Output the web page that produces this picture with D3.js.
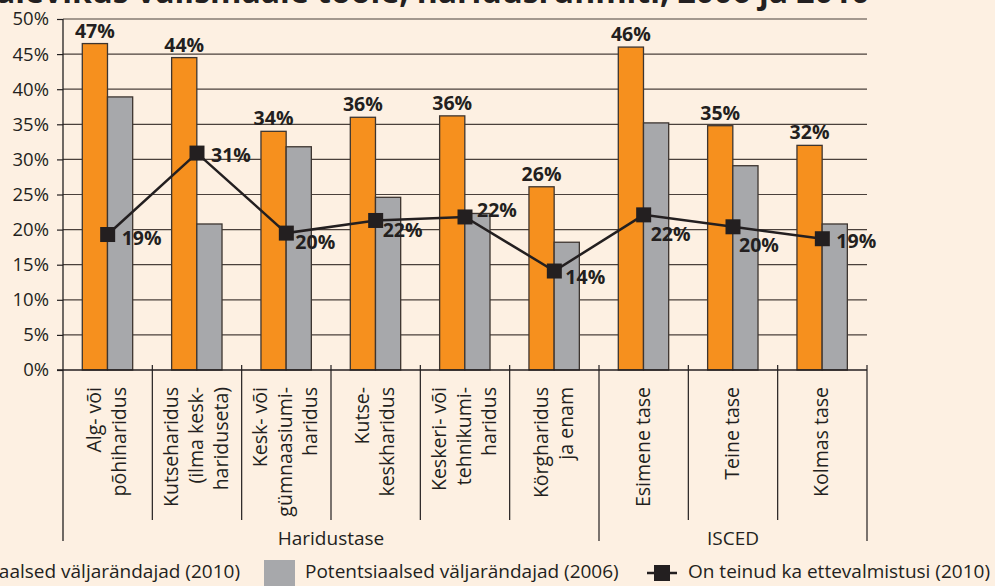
<!DOCTYPE html>
<html lang="et">
<head>
<meta charset="utf-8">
<title>haridusrühmiti</title>
<script src="https://cdn.jsdelivr.net/npm/d3@7"></script>
<style>
  body { margin: 0; background: #fdf0e2; }
  svg { display: block; font-family: "Open Sans", sans-serif; }
</style>
</head>
<body>
<script>

// categories (one entry per label line)
var categories = [
  ["Alg- või", "põhiharidus"],
  ["Kutseharidus", "(ilma kesk-", "hariduseta)"],
  ["Kesk- või", "gümnaasiumi-", "haridus"],
  ["Kutse-", "keskharidus"],
  ["Keskeri- või", "tehnikumi-", "haridus"],
  ["Körgharidus", "ja enam"],
  ["Esimene tase"],
  ["Teine tase"],
  ["Kolmas tase"]
];
var groups = ["Haridustase", "ISCED"];
var groupSizes = [6, 3];

var pot2010 = [46.5, 44.5, 34.0, 36.0, 36.2, 26.1, 46.0, 34.8, 32.0];
var pot2006 = [38.9, 20.8, 31.8, 24.6, 22.3, 18.2, 35.2, 29.1, 20.8];
var prep2010 = [19.3, 30.9, 19.5, 21.3, 21.8, 14.1, 22.1, 20.4, 18.7];

var pot2010Labels = ["47%", "44%", "34%", "36%", "36%", "26%", "46%", "35%", "32%"];
var prep2010Labels = ["19%", "31%", "20%", "22%", "22%", "14%", "22%", "20%", "19%"];

var yTicks = [0, 5, 10, 15, 20, 25, 30, 35, 40, 45, 50];

var seriesNames = ["Potentsiaalsed väljarändajad (2010)",
                   "Potentsiaalsed väljarändajad (2006)",
                   "On teinud ka ettevalmistusi (2010)"];
var title = "alevikus välismaale tööle, haridusrühmiti, 2006 ja 2010";

// where the line value labels sit relative to their marker
var prepLabelOffset = [[14, 10], [14, 9], [9, 16], [7, 17], [12, 0], [11, 13], [7, 26], [6, 25], [14, 9]];

var W = 995, H = 586;
var orange = "#f6901e", gray = "#a7a8ab", dark = "#231f20";

var svg = d3.select("body").append("svg")
  .attr("width", W)
  .attr("height", H);

svg.append("rect").attr("width", W).attr("height", H).attr("fill", "#fdf0e2");

var keys = categories.map(function(c) { return c.join(" "); });

var x = d3.scaleBand().domain(keys).range([63, 867]);
var bw = x.bandwidth();
var x1 = d3.scaleBand().domain(["a", "b"]).range([bw * 0.216, bw * 0.78]);
var y = d3.scaleLinear().domain([0, 50]).range([370, 19]);

// title (cut at top)
svg.append("text")
  .attr("x", -4)
  .attr("y", 3)
  .attr("font-size", 32)
  .attr("font-weight", "bold")
  .attr("fill", dark)
  .text(title);

// gridlines
svg.append("g").selectAll("line")
  .data(yTicks.slice(1))
  .enter().append("line")
  .attr("x1", 63).attr("x2", 867)
  .attr("y1", function(d) { return y(d); })
  .attr("y2", function(d) { return y(d); })
  .attr("stroke", "#4a403b")
  .attr("stroke-width", 1.2);

// bars
var g = svg.append("g");
g.selectAll(".b10")
  .data(pot2010)
  .enter().append("rect")
  .attr("x", function(d, i) { return x(keys[i]) + x1("a"); })
  .attr("y", function(d) { return y(d); })
  .attr("width", x1.bandwidth())
  .attr("height", function(d) { return y(0) - y(d); })
  .attr("fill", orange)
  .attr("stroke", "#3d3530")
  .attr("stroke-width", 1.3);

g.selectAll(".b06")
  .data(pot2006)
  .enter().append("rect")
  .attr("x", function(d, i) { return x(keys[i]) + x1("b"); })
  .attr("y", function(d) { return y(d); })
  .attr("width", x1.bandwidth())
  .attr("height", function(d) { return y(0) - y(d); })
  .attr("fill", gray)
  .attr("stroke", "#3d3530")
  .attr("stroke-width", 1.3);

// orange value labels
g.selectAll(".l10")
  .data(pot2010)
  .enter().append("text")
  .attr("x", function(d, i) { return x(keys[i]) + x1("a") + x1.bandwidth() / 2; })
  .attr("y", function(d) { return y(d) - 6; })
  .attr("text-anchor", "middle")
  .attr("font-size", 19.5)
  .attr("font-weight", "bold")
  .attr("fill", dark)
  .text(function(d, i) { return pot2010Labels[i]; });

// axes
var yAxis = d3.axisLeft(y).tickValues(yTicks).tickSize(6).tickPadding(8)
  .tickFormat(function(d) { return d + "%"; });
var ya = svg.append("g").attr("transform", "translate(63,0)").call(yAxis);
ya.select(".domain").remove();
ya.selectAll("line").attr("stroke", dark).attr("stroke-width", 1.2);
ya.selectAll("text").attr("font-size", 18.5).attr("fill", dark)
  .attr("font-family", "Open Sans, sans-serif");

svg.append("line").attr("x1", 63).attr("x2", 63).attr("y1", 19).attr("y2", 541)
  .attr("stroke", dark).attr("stroke-width", 1.3);
svg.append("line").attr("x1", 57).attr("x2", 867).attr("y1", y(0)).attr("y2", y(0))
  .attr("stroke", dark).attr("stroke-width", 1.3);

// category separators
var bounds = keys.map(function(k) { return x(k); }).concat([x.range()[1]]);
var groupEnds = [0];
groupSizes.forEach(function(s, i) { groupEnds.push(groupEnds[i] + s); });
svg.append("g").selectAll("line")
  .data(bounds.slice(1))
  .enter().append("line")
  .attr("x1", function(d) { return d; })
  .attr("x2", function(d) { return d; })
  .attr("y1", 365)
  .attr("y2", function(d, i) { return groupEnds.indexOf(i + 1) >= 0 ? 541 : 520; })
  .attr("stroke", dark)
  .attr("stroke-width", 1.2);

// category labels (rotated)
var lh = 25;
categories.forEach(function(lines, i) {
  var cx = x(keys[i]) + bw / 2;
  lines.forEach(function(t, j) {
    var bx = cx + (j - (lines.length - 1) / 2) * lh + 6;
    svg.append("text")
      .attr("transform", "translate(" + bx + ",387) rotate(-90)")
      .attr("text-anchor", "end")
      .attr("font-size", 19.5)
      .attr("fill", dark)
      .text(t);
  });
});

// group labels
groups.forEach(function(name, i) {
  var gx = (bounds[groupEnds[i]] + bounds[groupEnds[i + 1]]) / 2;
  svg.append("text")
    .attr("x", gx).attr("y", 545)
    .attr("text-anchor", "middle")
    .attr("font-size", 19)
    .attr("fill", dark)
    .text(name);
});

// line series
var cxs = keys.map(function(k) { return x(k) + bw / 2; });
var line = d3.line()
  .x(function(d, i) { return cxs[i]; })
  .y(function(d) { return y(d); });
svg.append("path")
  .datum(prep2010)
  .attr("d", line)
  .attr("fill", "none")
  .attr("stroke", dark)
  .attr("stroke-width", 2.5);

svg.append("g").selectAll("rect")
  .data(prep2010)
  .enter().append("rect")
  .attr("x", function(d, i) { return cxs[i] - 7.5; })
  .attr("y", function(d) { return y(d) - 7.5; })
  .attr("width", 15).attr("height", 15)
  .attr("fill", dark);

svg.append("g").selectAll("text")
  .data(prep2010)
  .enter().append("text")
  .attr("x", function(d, i) { return cxs[i] + prepLabelOffset[i][0]; })
  .attr("y", function(d, i) { return y(d) + prepLabelOffset[i][1]; })
  .attr("font-size", 19.5)
  .attr("font-weight", "bold")
  .attr("fill", dark)
  .text(function(d, i) { return prep2010Labels[i]; });

// legend
var leg = svg.append("g").attr("font-size", 19).attr("fill", dark);
var t1 = leg.append("text").attr("x", 240).attr("y", 578).attr("text-anchor", "end").text(seriesNames[0]);
var t1w = t1.node().getComputedTextLength();
leg.append("rect").attr("x", 240 - t1w - 41).attr("y", 560).attr("width", 31).attr("height", 26).attr("fill", orange);
leg.append("rect").attr("x", 264).attr("y", 560).attr("width", 31).attr("height", 26).attr("fill", gray);
leg.append("text").attr("x", 305).attr("y", 578).text(seriesNames[1]);
leg.append("line").attr("x1", 647).attr("x2", 677).attr("y1", 573).attr("y2", 573)
  .attr("stroke", dark).attr("stroke-width", 2.5);
leg.append("rect").attr("x", 654).attr("y", 565).attr("width", 16).attr("height", 16).attr("fill", dark);
leg.append("text").attr("x", 688).attr("y", 578).text(seriesNames[2]);

</script>
</body>
</html>
